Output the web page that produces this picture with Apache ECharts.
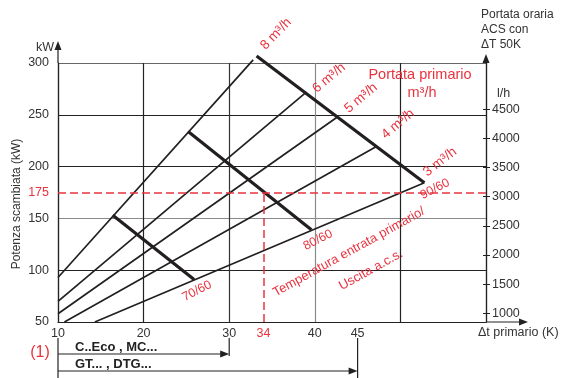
<!DOCTYPE html>
<html>
<head>
<meta charset="utf-8">
<title>Potenza scambiata</title>
<script src="https://cdn.jsdelivr.net/npm/echarts@6/dist/echarts.min.js"></script>
<style>
    html, body { margin: 0; padding: 0; background: #fff; }
    #chart { width: 562px; height: 378px; }
</style>
</head>
<body>
<div id="chart"></div>
<script>
// [Δt primario (K), potenza (kW)]
const flow8 = [[10, 93], [32.8, 303]];
const flow6 = [[10, 70], [38.8, 270.5]];
const flow5 = [[10, 58], [42.6, 247.7]];
const flow4 = [[10.75, 50], [47.2, 219.5]];
const flow3 = [[14.3, 50], [52.8, 184.5]];

// temperatura entrata primario / uscita a.c.s.
const temp9060 = [[33.2, 306.8], [52.8, 184.5]];
const temp8060 = [[25.2, 234], [39.6, 139]];
const temp7060 = [[16.4, 153], [25.9, 91]];

const xLabels = [10, 20, 30, 34, 40, 45];
const yLabels = [50, 100, 150, 175, 200, 250, 300];
const lhLabels = [1000, 1500, 2000, 2500, 3000, 3500, 4000, 4500];

const refPower = 175;  // kW
const refDelta = 34;   // K
const rangeEco = 30;   // C..Eco , MC...
const rangeGT = 45;    // GT... , DTG...

const RED = '#e8333f';
const INK = '#231f20';
const FONT = 'Liberation Sans, Arial, sans-serif';

function thin(name, data) {
    return {
        name: name, type: 'line', data: data, symbol: 'none', clip: false,
        silent: true, lineStyle: { color: INK, width: 1.7 }
    };
}
function thick(name, data) {
    return {
        name: name, type: 'line', data: data, symbol: 'none', clip: false,
        silent: true, lineStyle: { color: INK, width: 3.2 }
    };
}

const chart = echarts.init(document.getElementById('chart'));

const series = [
    thin('8 m³/h', flow8),
    thin('6 m³/h', flow6),
    thin('5 m³/h', flow5),
    thin('4 m³/h', flow4),
    thin('3 m³/h', flow3),
    thick('90/60', temp9060),
    thick('80/60', temp8060),
    thick('70/60', temp7060)
];

// linee tratteggiate rosse di esempio
series[4].markLine = {
    silent: true,
    symbol: 'none',
    label: { show: false },
    lineStyle: { color: RED, type: [8, 4], width: 1.5 },
    data: [
        [{ coord: [10, refPower] }, { coord: [60, refPower] }],
        [{ coord: [refDelta, 50] }, { coord: [refDelta, refPower] }]
    ]
};

const lhAxis = {
    type: 'value', min: 850, max: 5290, position: 'right',
    splitLine: { show: false }
};

chart.setOption({
    animation: false,
    textStyle: { fontFamily: FONT },
    grid: { left: 58, right: 76, top: 63, bottom: 56 },
    xAxis: {
        type: 'value', min: 10, max: 60, interval: 10,
        axisLine: { lineStyle: { color: '#222', width: 1.2 } },
        axisTick: { show: false },
        axisLabel: {
            customValues: xLabels, margin: 5, color: '#333', fontSize: 12.5,
            formatter: v => v === refDelta ? '{r|' + v + '}' : String(v),
            rich: { r: { color: RED, fontSize: 12.5 } }
        },
        splitLine: {
            show: true,
            lineStyle: { color: ['#333', '#222', '#333', '#8a8a8a', '#222', '#333'], width: 1.2 }
        }
    },
    yAxis: [{
        type: 'value', min: 50, max: 300, interval: 50,
        axisLine: { show: true, lineStyle: { color: '#222', width: 1.2 } },
        axisTick: { show: false },
        axisLabel: {
            customValues: yLabels, margin: 9, color: '#333', fontSize: 12.5,
            formatter: v => v === refPower ? '{r|' + v + '}' : String(v),
            rich: { r: { color: RED, fontSize: 12.5 } }
        },
        splitLine: {
            show: true,
            lineStyle: { color: ['#333', '#222', '#8a8a8a', '#222', '#222', '#666'], width: 1.2 }
        }
    }, Object.assign({}, lhAxis, {
        axisLine: { show: true, lineStyle: { color: '#222', width: 1.2 } },
        axisTick: { show: true, customValues: lhLabels, length: 4, lineStyle: { color: '#222' } },
        axisLabel: { customValues: lhLabels, margin: 6, color: '#333', fontSize: 12.5, formatter: v => String(v) }
    }), Object.assign({}, lhAxis, {
        // metà interna delle tacche l/h
        axisLine: { show: false },
        axisTick: { show: true, inside: true, customValues: lhLabels, length: 3, lineStyle: { color: '#222' } },
        axisLabel: { show: false }
    })],
    series: series
});

// decorazioni: frecce degli assi, testi, campi di validità
const px = v => chart.convertToPixel({ xAxisIndex: 0, yAxisIndex: 0 }, v);
const origin = px([10, 50]);
const topLeft = px([10, 300]);
const topRight = px([60, 300]);
const endX = px([60, 50]);
const x30 = px([rangeEco, 50])[0];
const x45 = px([rangeGT, 50])[0];

function seg(x1, y1, x2, y2, w) {
    return { type: 'line', shape: { x1, y1, x2, y2 }, style: { stroke: '#222', lineWidth: w || 1.2 }, silent: true };
}
function head(x, y, dir) {
    // freccia piena, punta in (x, y)
    const pts = dir === 'up'
        ? [[x, y], [x - 3.5, y + 9], [x + 3.5, y + 9]]
        : [[x, y], [x - 9, y - 3.5], [x - 9, y + 3.5]];
    return { type: 'polygon', shape: { points: pts }, style: { fill: '#222' }, silent: true };
}
function txt(text, x, y, opt) {
    opt = opt || {};
    return {
        type: 'text', x: x, y: y, rotation: (opt.rot || 0) * Math.PI / 180, silent: true,
        style: {
            text: text, fill: opt.color || '#333', align: opt.align || 'center', verticalAlign: 'middle',
            font: (opt.weight || 'normal') + ' ' + (opt.size || 12) + 'px ' + FONT,
            lineHeight: opt.lh
        }
    };
}

const graphics = [
    seg(topLeft[0], topLeft[1], topLeft[0], topLeft[1] - 14),
    head(topLeft[0], topLeft[1] - 22, 'up'),
    seg(topRight[0], topRight[1], topRight[0], topRight[1] - 2),
    head(topRight[0], topRight[1] - 9, 'up'),
    seg(endX[0], endX[1], endX[0] + 36, endX[1]),
    head(endX[0] + 42, endX[1], 'right'),

    // campi di validità sotto l'asse
    seg(origin[0], origin[1] + 16, origin[0], 378),
    seg(x30, origin[1] + 16, x30, origin[1] + 34),
    seg(x45, origin[1] + 16, x45, 378),
    seg(origin[0], origin[1] + 32, x30 - 8, origin[1] + 32),
    head(x30, origin[1] + 32, 'right'),
    seg(origin[0], origin[1] + 49, x45 - 8, origin[1] + 49),
    head(x45, origin[1] + 49, 'right'),
    txt('(1)', 40, 353, { color: RED, size: 16 }),
    txt('C..Eco , MC...', 75, 347, { align: 'left', weight: 'bold', size: 13, color: '#222' }),
    txt('GT... , DTG...', 75, 364, { align: 'left', weight: 'bold', size: 13, color: '#222' }),

    // titoli degli assi
    txt('kW', 54, 48, { align: 'right', size: 12.5 }),
    txt('Potenza scambiata (kW)', 17, 204, { rot: 90, size: 12 }),
    txt('Δt primario (K)', 478, 333, { align: 'left', size: 12.5 }),
    txt('Portata oraria\nACS con\nΔT 50K', 481, 30, { align: 'left', size: 12, lh: 15 }),
    txt('l/h', 497, 94, { align: 'left', size: 12.5 }),

    // portata primario
    txt('Portata primario', 420, 75, { color: RED, size: 14.5 }),
    txt('m³/h', 422, 93, { color: RED, size: 14.5 }),
    txt('8 m³/h', 276, 34, { color: RED, size: 13.5, rot: 46 }),
    txt('6 m³/h', 329, 78, { color: RED, size: 13.5, rot: 40 }),
    txt('5 m³/h', 361, 98, { color: RED, size: 13.5, rot: 40 }),
    txt('4 m³/h', 398, 124, { color: RED, size: 13.5, rot: 40 }),
    txt('3 m³/h', 440, 162, { color: RED, size: 13.5, rot: 38 }),

    // temperature
    txt('90/60', 435, 189, { color: RED, size: 12.5, rot: 27 }),
    txt('80/60', 318, 240, { color: RED, size: 12.5, rot: 27 }),
    txt('70/60', 197, 291, { color: RED, size: 12.5, rot: 27 }),
    txt('Temperatura entrata primario/', 349, 252, { color: RED, size: 13, rot: 29 }),
    txt('Uscita a.c.s.', 371, 270, { color: RED, size: 13, rot: 29 })
];

chart.setOption({ graphic: graphics });

window.addEventListener('resize', () => chart.resize());
</script>
</body>
</html>
